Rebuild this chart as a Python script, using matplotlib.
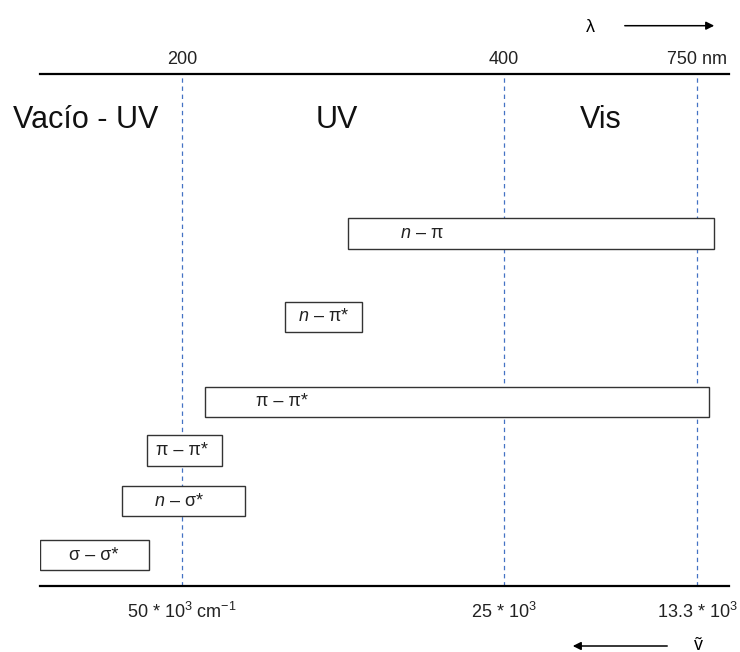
import matplotlib.pyplot as plt
import numpy as np

plt.rcParams['font.family'] = ['Liberation Sans', 'DejaVu Sans']
plt.rcParams['mathtext.fontset'] = 'custom'
plt.rcParams['mathtext.rm'] = 'Liberation Sans'
plt.rcParams['mathtext.it'] = 'Liberation Sans:italic'

# transitions: label, start / end wavelength (nm), level, label position (nm)
trans = ['σ – σ*', '$n$ – σ*', 'π – π*', 'π – π*', '$n$ – π*', '$n$ – π']
lam_start = [100, 158, 175, 214, 264, 303]
lam_end = [177, 239, 225, 771, 312, 780]
level = [0.59, 1.65, 2.64, 3.59, 5.25, 6.88]
label_at = [138, 198, 200, 262, 288, 349]

tick_lam = [200, 400, 750]
top_labels = ['200', '400', '750 nm']
bottom_labels = ['50 * $10^3$ cm$^{-1}$', '25 * $10^3$', '13.3 * $10^3$']

regions = ['Vacío - UV', 'UV', 'Vis']
region_at = [132, 296, 576]

# schematic (non linear) wavelength axis
anchor_lam = [100, 200, 400, 750, 808]
anchor_pos = [40, 182, 504, 697, 729]

def fwd(x):
    return np.interp(x, anchor_lam, anchor_pos)

def inv(p):
    return np.interp(p, anchor_pos, anchor_lam)

fig = plt.figure(figsize=(7.4, 6.52), dpi=100)
ax = fig.add_axes([40/740, 1-585.5/652, 689/740, 511.5/652])
ax.set_xscale('function', functions=(fwd, inv))
ax.set_xlim(100, 808)
ax.set_ylim(0, 10)

for x in tick_lam:
    ax.axvline(x, color='#4472C4', lw=0.9, ls=(0, (3.5, 3)), zorder=0)

width = np.array(lam_end) - np.array(lam_start)
ax.barh(level, width, left=lam_start, height=0.59, facecolor='white',
        edgecolor='#333333', linewidth=1.0, zorder=2)
for lab, x, y in zip(trans, label_at, level):
    ax.text(x, y, lab, ha='center', va='center', fontsize=13, color='#222222', zorder=3)

for lab, x in zip(regions, region_at):
    ax.text(x, 9.1, lab, ha='center', va='center', fontsize=22, color='#111111',
            clip_on=False)

ax.set_xticks(tick_lam, top_labels)
ax.xaxis.set_minor_locator(plt.NullLocator())
ax.tick_params(axis='x', top=True, bottom=False, labeltop=True, labelbottom=False,
               length=0, pad=4, labelsize=13, labelcolor='#222222')
ax.set_yticks([])
for x, lab in zip(tick_lam, bottom_labels):
    ax.text(x, -26.5/51.15, lab, ha='center', va='center', fontsize=13,
            color='#222222', clip_on=False)

for s in ['left', 'right']:
    ax.spines[s].set_visible(False)
for s in ['top', 'bottom']:
    ax.spines[s].set_linewidth(1.6)
    ax.spines[s].set_color('black')

# direction arrows
fig.text(590/740, 1-27/652, 'λ', ha='center', va='center', fontsize=13)
ax.annotate('', xy=(717/740, 1-25.7/652), xytext=(622/740, 1-25.7/652),
            xycoords='figure fraction',
            arrowprops=dict(arrowstyle='-|>', color='black', lw=1.1,
                            mutation_scale=12))
fig.text(698/740, 1-645/652, 'ṽ', ha='center', va='center', fontsize=13)
ax.annotate('', xy=(570/740, 1-646/652), xytext=(670/740, 1-646/652),
            xycoords='figure fraction',
            arrowprops=dict(arrowstyle='-|>', color='black', lw=1.1,
                            mutation_scale=12))

fig.savefig('out.png', dpi=100, facecolor='white')
